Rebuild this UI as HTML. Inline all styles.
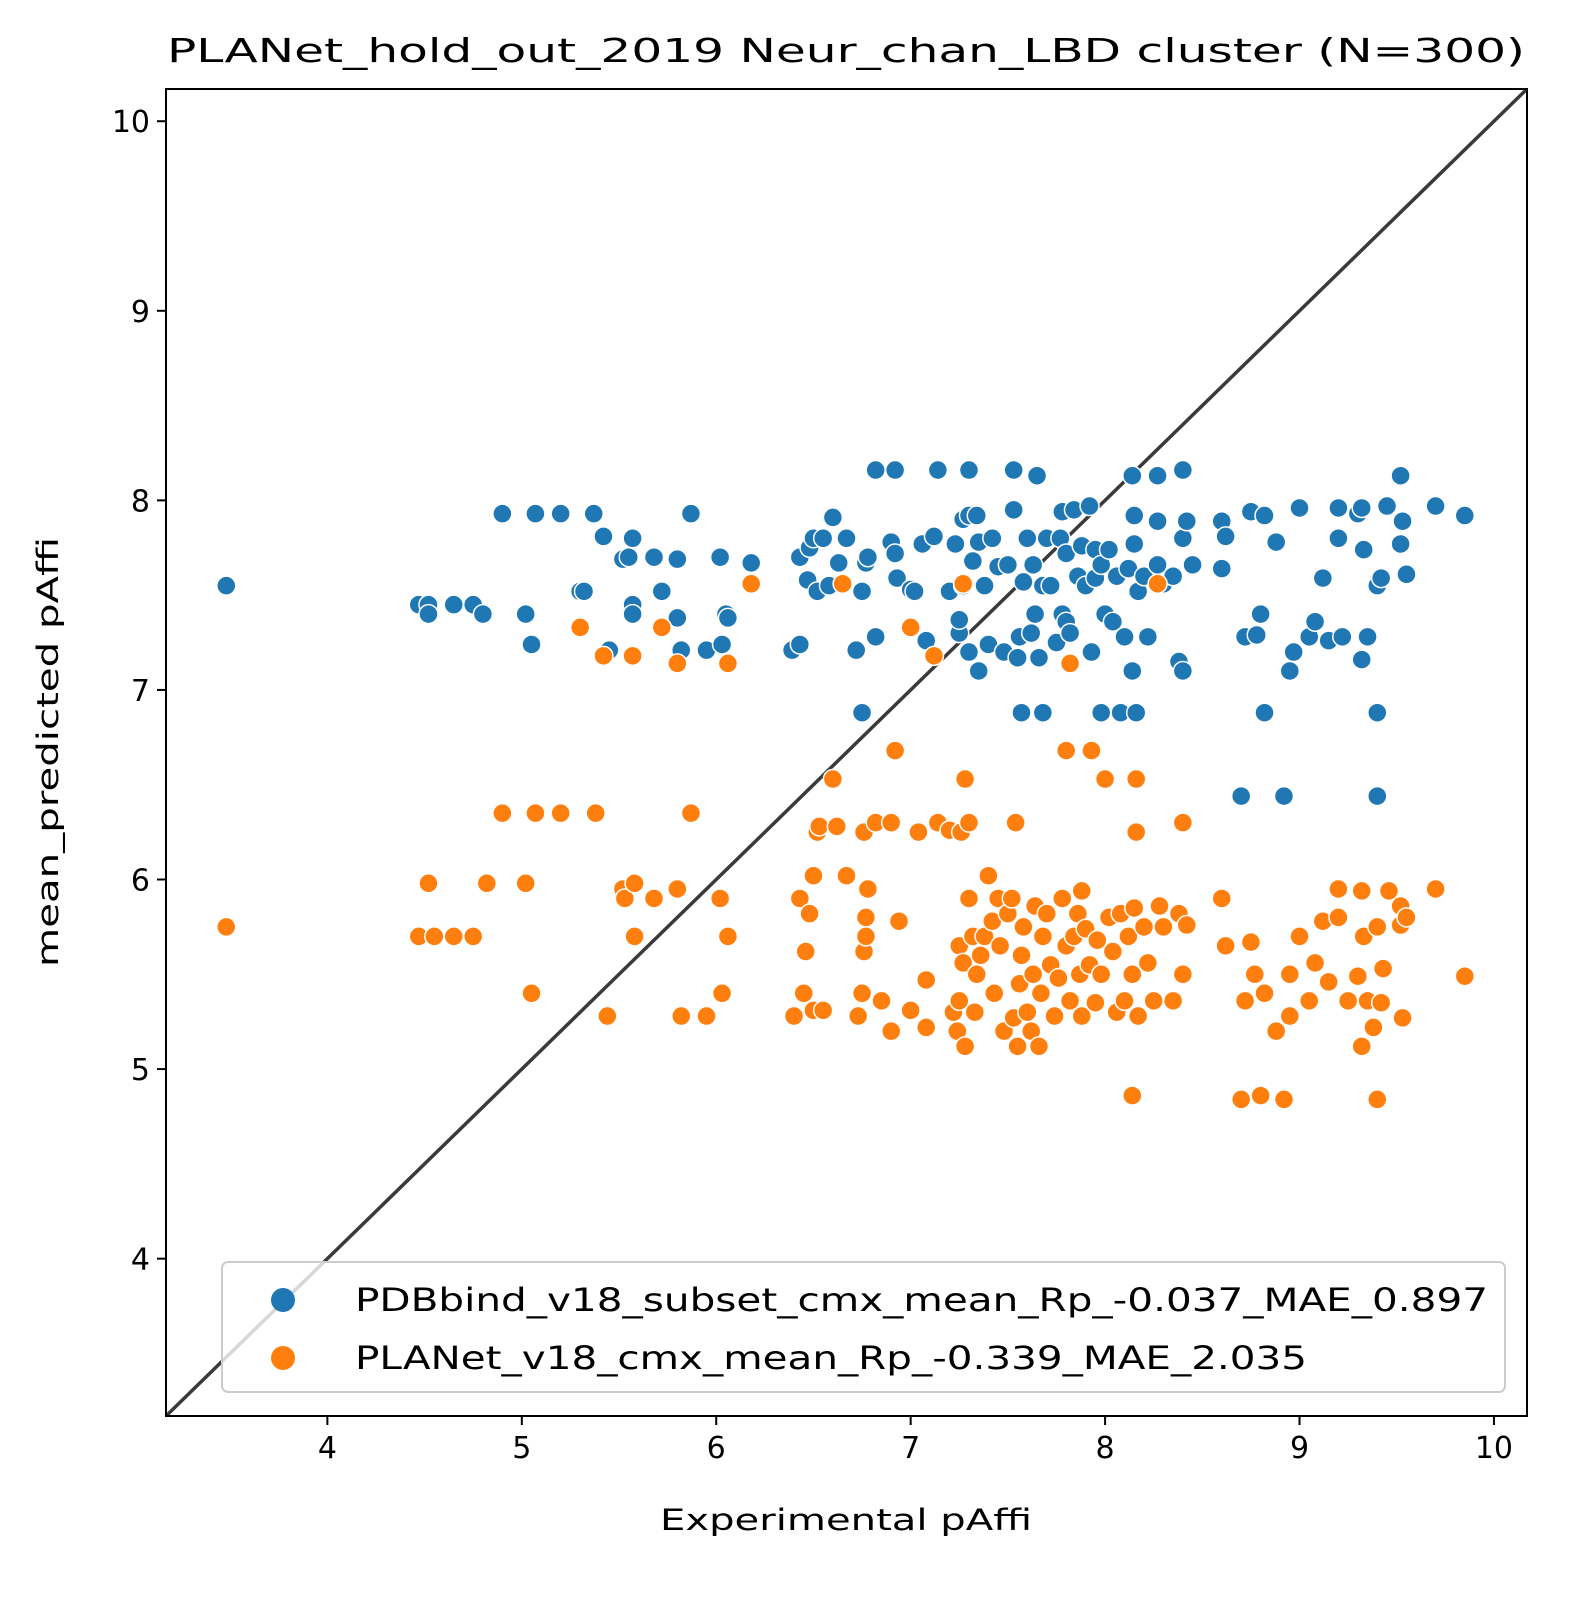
<!DOCTYPE html>
<html><head><meta charset="utf-8"><style>
html,body{margin:0;padding:0;background:#fff;width:1596px;height:1607px;overflow:hidden}
svg{display:block;font-family:"DejaVu Sans","Liberation Sans",sans-serif}
</style></head><body>
<svg id="chart" width="1596" height="1607" viewBox="0 0 1596 1607">
<rect width="1596" height="1607" fill="#fff"/>
<text x="846" y="62" style="font-size:33px" textLength="1358" lengthAdjust="spacingAndGlyphs" text-anchor="middle" fill="#000">PLANet_hold_out_2019 Neur_chan_LBD cluster (N=300)</text>
<g id="ticks"></g>
<line id="diag" stroke="#3a3a3a" stroke-width="3.5"/>
<g id="points"></g>
<rect x="166" y="89" width="1361" height="1327" fill="none" stroke="#000" stroke-width="2"/>
<text x="846" y="1530" style="font-size:29px" textLength="372" lengthAdjust="spacingAndGlyphs" text-anchor="middle">Experimental pAffi</text>
<text transform="translate(58,752) rotate(-90)" style="font-size:29px" textLength="430" lengthAdjust="spacingAndGlyphs" text-anchor="middle">mean_predicted pAffi</text>
<g>
<rect x="222" y="1262" width="1283" height="130" rx="6" fill="#fff" fill-opacity="0.8" stroke="#ccc" stroke-width="2"/>
<circle cx="283" cy="1300" r="12" fill="#1f77b4"/>
<text x="355" y="1311" style="font-size:32px" textLength="1133" lengthAdjust="spacingAndGlyphs">PDBbind_v18_subset_cmx_mean_Rp_-0.037_MAE_0.897</text>
<circle cx="283" cy="1358" r="12" fill="#ff7f0e"/>
<text x="355" y="1369" style="font-size:32px" textLength="952" lengthAdjust="spacingAndGlyphs">PLANet_v18_cmx_mean_Rp_-0.339_MAE_2.035</text>
</g>
</svg>
<script>
const xTicks=[4,5,6,7,8,9,10];
const yTicks=[4,5,6,7,8,9,10];
const blueX=[3.48,4.47,4.52,4.52,4.65,4.75,4.8,4.9,5.02,5.05,5.07,5.2,5.3,5.32,5.37,5.42,5.45,5.52,5.55,5.57,5.57,5.57,5.68,5.72,5.80,5.80,5.82,5.87,5.95,6.02,6.03,6.05,6.06,6.18,6.39,6.43,6.43,6.47,6.48,6.5,6.52,6.55,6.58,6.6,6.63,6.67,6.72,6.75,6.75,6.77,6.78,6.82,6.82,6.9,6.92,6.92,6.93,7.0,7.02,7.06,7.08,7.12,7.14,7.2,7.23,7.25,7.25,7.27,7.27,7.3,7.3,7.3,7.32,7.34,7.35,7.35,7.38,7.4,7.42,7.45,7.48,7.5,7.53,7.53,7.55,7.56,7.57,7.58,7.6,7.62,7.63,7.64,7.65,7.66,7.68,7.68,7.7,7.72,7.75,7.77,7.78,7.78,7.8,7.8,7.82,7.84,7.86,7.88,7.9,7.92,7.93,7.95,7.95,7.98,7.98,8.0,8.02,8.04,8.06,8.08,8.1,8.12,8.14,8.14,8.15,8.15,8.16,8.17,8.2,8.22,8.27,8.27,8.27,8.3,8.35,8.38,8.4,8.4,8.4,8.42,8.45,8.6,8.6,8.62,8.7,8.72,8.75,8.78,8.8,8.82,8.82,8.88,8.92,8.95,8.97,9.0,9.05,9.08,9.12,9.15,9.2,9.2,9.22,9.3,9.32,9.32,9.33,9.35,9.4,9.4,9.4,9.42,9.45,9.52,9.52,9.53,9.55,9.7,9.85];
const blueY=[7.55,7.45,7.45,7.40,7.45,7.45,7.40,7.93,7.40,7.24,7.93,7.93,7.52,7.52,7.93,7.81,7.21,7.69,7.7,7.80,7.45,7.40,7.70,7.52,7.69,7.38,7.21,7.93,7.21,7.70,7.24,7.40,7.38,7.67,7.21,7.24,7.70,7.58,7.75,7.8,7.52,7.80,7.55,7.91,7.67,7.80,7.21,6.88,7.52,7.67,7.70,8.16,7.28,7.78,8.16,7.72,7.59,7.53,7.52,7.77,7.26,7.81,8.16,7.52,7.77,7.3,7.37,7.55,7.9,7.92,8.16,7.2,7.68,7.92,7.1,7.78,7.55,7.24,7.8,7.65,7.2,7.66,7.95,8.16,7.17,7.28,6.88,7.57,7.8,7.3,7.66,7.4,8.13,7.17,7.55,6.88,7.8,7.55,7.25,7.8,7.94,7.4,7.72,7.36,7.3,7.95,7.6,7.76,7.55,7.97,7.2,7.74,7.59,7.66,6.88,7.4,7.74,7.36,7.6,6.88,7.28,7.64,8.13,7.1,7.77,7.92,6.88,7.52,7.6,7.28,8.13,7.89,7.66,7.56,7.6,7.15,7.1,8.16,7.8,7.89,7.66,7.89,7.64,7.81,6.44,7.28,7.94,7.29,7.4,7.92,6.88,7.78,6.44,7.1,7.2,7.96,7.28,7.36,7.59,7.26,7.96,7.8,7.28,7.93,7.96,7.16,7.74,7.28,6.44,6.88,7.55,7.59,7.97,8.13,7.77,7.89,7.61,7.97,7.92];
const orangeX=[3.48,4.47,4.52,4.55,4.65,4.75,4.82,4.9,5.02,5.05,5.07,5.2,5.3,5.38,5.42,5.44,5.52,5.53,5.57,5.58,5.58,5.68,5.72,5.8,5.8,5.82,5.87,5.95,6.02,6.03,6.06,6.06,6.18,6.4,6.43,6.45,6.46,6.48,6.5,6.5,6.52,6.53,6.55,6.6,6.62,6.65,6.67,6.73,6.75,6.76,6.76,6.77,6.77,6.78,6.82,6.85,6.9,6.9,6.92,6.94,7.0,7.0,7.04,7.08,7.08,7.12,7.14,7.2,7.22,7.24,7.25,7.25,7.26,7.27,7.27,7.28,7.28,7.3,7.3,7.32,7.33,7.34,7.36,7.38,7.4,7.42,7.43,7.45,7.46,7.48,7.5,7.52,7.53,7.54,7.55,7.56,7.57,7.58,7.6,7.62,7.63,7.64,7.66,7.67,7.68,7.7,7.72,7.74,7.76,7.78,7.8,7.8,7.82,7.82,7.84,7.86,7.87,7.88,7.88,7.9,7.92,7.93,7.95,7.96,7.98,8.0,8.02,8.04,8.06,8.08,8.1,8.12,8.14,8.14,8.15,8.16,8.16,8.17,8.2,8.22,8.25,8.27,8.28,8.3,8.35,8.38,8.4,8.4,8.42,8.6,8.62,8.7,8.72,8.75,8.77,8.8,8.82,8.88,8.92,8.95,8.95,9.0,9.05,9.08,9.12,9.15,9.2,9.2,9.25,9.3,9.32,9.32,9.33,9.35,9.38,9.4,9.4,9.42,9.43,9.46,9.52,9.52,9.53,9.55,9.7,9.85];
const orangeY=[5.75,5.7,5.98,5.7,5.7,5.7,5.98,6.35,5.98,5.4,6.35,6.35,7.33,6.35,7.18,5.28,5.95,5.9,7.18,5.98,5.7,5.9,7.33,7.14,5.95,5.28,6.35,5.28,5.9,5.4,7.14,5.7,7.56,5.28,5.9,5.4,5.62,5.82,6.02,5.31,6.25,6.28,5.31,6.53,6.28,7.56,6.02,5.28,5.4,6.25,5.62,5.8,5.7,5.95,6.3,5.36,5.2,6.3,6.68,5.78,7.33,5.31,6.25,5.47,5.22,7.18,6.3,6.26,5.3,5.2,5.65,5.36,6.25,7.56,5.56,6.53,5.12,5.9,6.3,5.7,5.3,5.5,5.6,5.7,6.02,5.78,5.4,5.9,5.65,5.2,5.82,5.9,5.27,6.3,5.12,5.45,5.6,5.75,5.3,5.2,5.5,5.86,5.12,5.4,5.7,5.82,5.55,5.28,5.48,5.9,6.68,5.65,7.14,5.36,5.7,5.82,5.5,5.94,5.28,5.74,5.55,6.68,5.35,5.68,5.5,6.53,5.8,5.62,5.3,5.82,5.36,5.7,5.5,4.86,5.85,6.25,6.53,5.28,5.75,5.56,5.36,7.56,5.86,5.75,5.36,5.82,6.3,5.5,5.76,5.9,5.65,4.84,5.36,5.67,5.5,4.86,5.4,5.2,4.84,5.5,5.28,5.7,5.36,5.56,5.78,5.46,5.95,5.8,5.36,5.49,5.94,5.12,5.7,5.36,5.22,4.84,5.75,5.35,5.53,5.94,5.86,5.76,5.27,5.8,5.95,5.49];

const L=166,R=1527,T=89,B=1416,MIN=3.17,MAX=10.17;
const sx=v=>L+(v-MIN)/(MAX-MIN)*(R-L);
const sy=v=>B-(v-MIN)/(MAX-MIN)*(B-T);
const NS="http://www.w3.org/2000/svg";
function mk(tag,attrs,parent){const e=document.createElementNS(NS,tag);for(const k in attrs)e.setAttribute(k,attrs[k]);parent.appendChild(e);return e;}
const tg=document.getElementById('ticks');
xTicks.forEach(t=>{
  const l=mk('line',{x1:sx(t),x2:sx(t),y1:B,y2:B+9,stroke:'#000','stroke-width':2},tg);
  
  
  const tx=mk('text',{x:sx(t),y:B+42,style:'font-size:30px','text-anchor':'middle'},tg);
  tx.textContent=t;
  
  
});
yTicks.forEach(t=>{
  const l=mk('line',{x1:L-9,x2:L,y1:sy(t),y2:sy(t),stroke:'#000','stroke-width':2},tg);
  
  
  const tx=mk('text',{x:L-16,y:sy(t)+11,style:'font-size:30px','text-anchor':'end'},tg);
  tx.textContent=t;
  
  
});
const d=document.getElementById('diag');
d.setAttribute('x1',sx(MIN));d.setAttribute('y1',sy(MIN));d.setAttribute('x2',sx(MAX));d.setAttribute('y2',sy(MAX));
const pg=document.getElementById('points');
blueX.forEach((x,i)=>{
  const c=mk('circle',{cx:sx(x),cy:sy(blueY[i]),r:9.5,fill:'#1f77b4',stroke:'#fff','stroke-width':1.5},pg);
  
  
});
orangeX.forEach((x,i)=>{
  const c=mk('circle',{cx:sx(x),cy:sy(orangeY[i]),r:9.5,fill:'#ff7f0e',stroke:'#fff','stroke-width':1.5},pg);
  
  
});
</script>
</body></html>
